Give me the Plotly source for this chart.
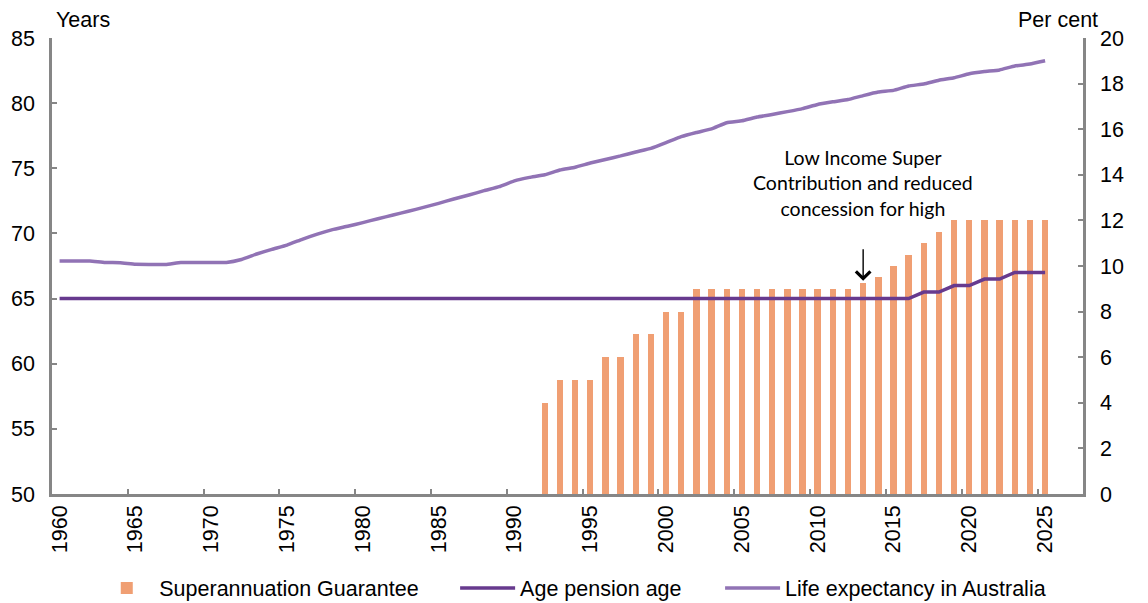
import plotly.graph_objects as go

years = list(range(1960, 2026))

# Life expectancy in Australia (years, left axis)
life_expectancy = [
    67.89, 67.89, 67.89, 67.77, 67.75, 67.63, 67.62, 67.62, 67.77, 67.77,
    67.77, 67.77, 68.0, 68.42, 68.78, 69.1, 69.55, 69.95, 70.29, 70.55,
    70.83, 71.13, 71.41, 71.7, 72.0, 72.31, 72.64, 72.95, 73.28, 73.59,
    74.03, 74.3, 74.5, 74.87, 75.08, 75.4, 75.68, 75.95, 76.25, 76.53,
    76.97, 77.43, 77.75, 78.02, 78.5, 78.65, 78.93, 79.13, 79.35, 79.58,
    79.9, 80.1, 80.28, 80.58, 80.85, 80.98, 81.32, 81.47, 81.76, 81.95,
    82.25, 82.42, 82.55, 82.85, 83.0, 83.25,
]

# Age pension age (years, left axis)
pension_years = years
pension_age = [65.0] * 57 + [65.5, 65.5, 66.0, 66.0, 66.5, 66.5, 67.0, 67.0, 67.0]

# Superannuation Guarantee (per cent, right axis)
sg_years = list(range(1992, 2026))
sg_rate = [4, 5, 5, 5, 6, 6, 7, 7, 8, 8,
           9, 9, 9, 9, 9, 9, 9, 9, 9, 9, 9,
           9.25, 9.5, 10, 10.5, 11, 11.5,
           12, 12, 12, 12, 12, 12, 12]

x_label_years = list(range(1960, 2026, 5))
x_minor_ticks = [y - 0.5 for y in range(1965, 2026, 5)]
left_ticks = list(range(50, 86, 5))
right_ticks = list(range(0, 21, 2))

axis_grey = "#868686"
font_main = "Arial, Liberation Sans, sans-serif"
FS = 21.5

fig = go.Figure()

fig.add_trace(go.Bar(
    x=sg_years, y=sg_rate, name="Superannuation Guarantee",
    marker=dict(color="#f09f73", line=dict(width=0)),
    width=0.42, yaxis="y", legend="legend",
))
fig.add_trace(go.Scatter(
    x=pension_years, y=pension_age, name="Age pension age",
    mode="lines", line=dict(color="#673a8e", width=3.5), yaxis="y2",
    legend="legend2",
))
fig.add_trace(go.Scatter(
    x=years, y=life_expectancy, name="Life expectancy in Australia",
    mode="lines", line=dict(color="#9173b5", width=3.5, shape="spline", smoothing=0.3),
    yaxis="y2", legend="legend3",
))

leg_common = dict(orientation="h", y=-0.206, yanchor="middle", xanchor="left",
                  font=dict(family=font_main, size=FS, color="#000000"),
                  itemwidth=55, bgcolor="rgba(0,0,0,0)")

fig.update_layout(
    width=1148, height=603,
    margin=dict(l=52, r=65, t=38, b=109, autoexpand=False),
    paper_bgcolor="white", plot_bgcolor="white",
    font=dict(family=font_main, size=FS, color="#000000"),
    bargap=0,
    showlegend=True,
    legend=dict(x=0.041, **leg_common),
    legend2=dict(x=0.391, **leg_common),
    legend3=dict(x=0.648, **leg_common),
    xaxis=dict(
        range=[1959.5, 2027.5], tickmode="array", tickvals=x_label_years,
        ticktext=[str(v) for v in x_label_years], tickangle=-90, ticks="",
        showline=True, linecolor=axis_grey, linewidth=2.5, showgrid=False,
        zeroline=False, tickfont=dict(size=FS), automargin=False,
        minor=dict(tickmode="array", tickvals=x_minor_ticks, ticks="inside",
                   ticklen=5, tickcolor=axis_grey, tickwidth=1.5, showgrid=False),
    ),
    yaxis=dict(
        range=[0, 20], tickvals=right_ticks, side="right",
        showline=True, linecolor=axis_grey, linewidth=2.5, showgrid=False,
        zeroline=False, ticks="inside", ticklen=5, tickcolor=axis_grey, tickwidth=1.5,
        ticklabelstandoff=10, tickfont=dict(size=FS), automargin=False,
    ),
    yaxis2=dict(
        range=[50, 85], tickvals=left_ticks, side="left", overlaying="y",
        showline=True, linecolor=axis_grey, linewidth=2.5, showgrid=False,
        zeroline=False, ticks="inside", ticklen=5, tickcolor=axis_grey, tickwidth=1.5,
        ticklabelstandoff=10, tickfont=dict(size=FS), automargin=False,
    ),
)

fig.add_annotation(text="Years", xref="paper", yref="paper", x=0, y=1,
                   xanchor="left", yanchor="bottom", xshift=2, yshift=4,
                   showarrow=False, font=dict(size=FS))
fig.add_annotation(text="Per cent", xref="paper", yref="paper", x=1.0165, y=1,
                   xanchor="right", yanchor="bottom", yshift=4,
                   showarrow=False, font=dict(size=FS))

fig.add_annotation(
    text="Low Income Super<br>Contribution and reduced<br>concession for high",
    x=2013, y=13.64, xref="x", yref="y", showarrow=False,
    font=dict(family="Lato, Carlito, sans-serif", size=19.5, color="#000000"),
    align="center",
)
fig.add_annotation(
    text="", x=2013, y=9.35, xref="x", yref="y", showarrow=True,
    ax=0, ay=-33, arrowhead=4, arrowsize=2, arrowwidth=1.4, arrowcolor="#000000",
)

fig.write_html("out.html", config={"displayModeBar": False},
               post_script="document.body.style.margin='0';")
